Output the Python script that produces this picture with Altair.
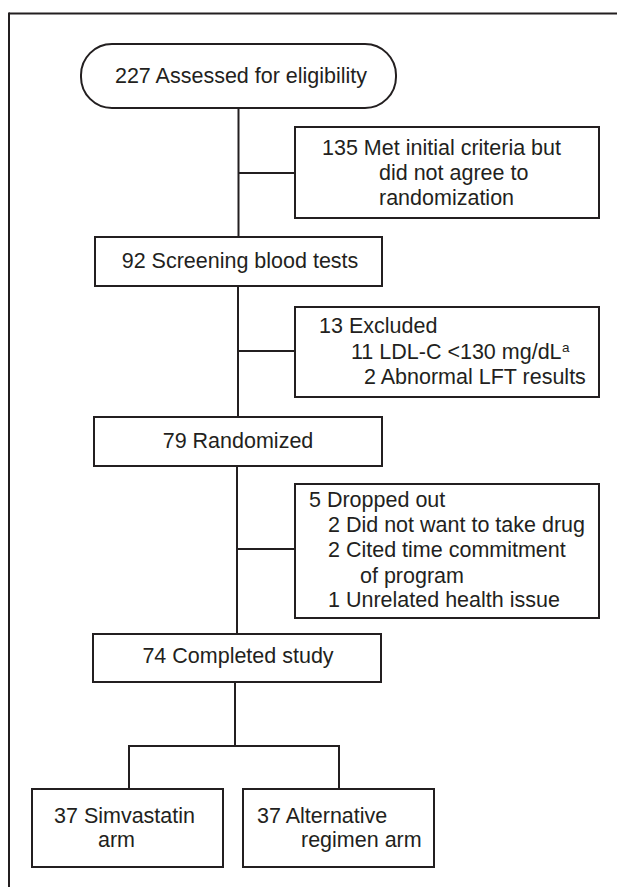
import altair as alt
import pandas as pd

# ---- content (labels) ----
step_labels = ["227 Assessed for eligibility", "92 Screening blood tests",
               "79 Randomized", "74 Completed study"]
declined_lines = ["135 Met initial criteria but", "did not agree to", "randomization"]
excluded_lines = ["13 Excluded", "11 LDL-C <130 mg/dL", "2 Abnormal LFT results"]
excluded_sup = "a"
dropped_lines = ["5 Dropped out", "2 Did not want to take drug", "2 Cited time commitment",
                 "of program", "1 Unrelated health issue"]
arm_sim_lines = ["37 Simvastatin", "arm"]
arm_alt_lines = ["37 Alternative", "regimen arm"]

# ---- layout (diagram coordinates) ----
boxes = pd.DataFrame([
    dict(x1=81, x2=396, y1=44, y2=108, kind="pill"),
    dict(x1=295, x2=599, y1=127, y2=218, kind="box"),
    dict(x1=95, x2=382, y1=237, y2=286, kind="box"),
    dict(x1=295, x2=599, y1=307, y2=397, kind="box"),
    dict(x1=94, x2=382, y1=417, y2=466, kind="box"),
    dict(x1=295, x2=599, y1=484, y2=618, kind="box"),
    dict(x1=93, x2=381, y1=634, y2=682, kind="box"),
    dict(x1=32, x2=223, y1=789, y2=867, kind="box"),
    dict(x1=243, x2=434, y1=789, y2=867, kind="box"),
])

connectors = pd.DataFrame([
    dict(x1=238.5, x2=238.5, y1=108, y2=237),
    dict(x1=238.5, x2=295, y1=173, y2=173),
    dict(x1=238, x2=238, y1=286, y2=417),
    dict(x1=238, x2=295, y1=351, y2=351),
    dict(x1=237, x2=237, y1=466, y2=634),
    dict(x1=237, x2=295, y1=549, y2=549),
    dict(x1=235, x2=235, y1=682, y2=746),
    dict(x1=128, x2=340, y1=746, y2=746),
    dict(x1=129, x2=129, y1=746, y2=789),
    dict(x1=339, x2=339, y1=746, y2=789),
    # outer frame
    dict(x1=9, x2=620, y1=13.5, y2=13.5),
    dict(x1=9, x2=9, y1=12.5, y2=890),
])

text_rows = []
def add(label, x, y, anchor="left"):
    text_rows.append(dict(label=label, x=x, y=y, anchor=anchor))

add(step_labels[0], 241, 83, "center")
for lab, x, y in zip(declined_lines, [322, 379, 379], [155, 180, 205]):
    add(lab, x, y)
add(step_labels[1], 240, 268, "center")
for lab, x, y in zip(excluded_lines, [319, 351, 364], [333, 359, 384]):
    add(lab, x, y)
add(step_labels[2], 238, 448, "center")
for lab, x, y in zip(dropped_lines, [309, 328, 328, 360, 328], [507, 532, 557, 583, 607]):
    add(lab, x, y)
add(step_labels[3], 238, 663, "center")
for lab, x, y in zip(arm_sim_lines, [54, 98], [823, 847]):
    add(lab, x, y)
for lab, x, y in zip(arm_alt_lines, [257, 301], [823, 847]):
    add(lab, x, y)
texts = pd.DataFrame(text_rows)
sup = pd.DataFrame([dict(label=excluded_sup, x=562, y=352)])

INK = "#231f20"
FONT = "Liberation Sans"
FS = 21.5

xs = alt.Scale(domain=[8, 617], nice=False, zero=False)
ys = alt.Scale(domain=[8, 887], nice=False, zero=False, reverse=True)

def X(f):
    return alt.X(f, type="quantitative", scale=xs, axis=None)

def Y(f):
    return alt.Y(f, type="quantitative", scale=ys, axis=None)

lines = alt.Chart(connectors).mark_rule(color=INK, strokeWidth=2).encode(
    x=X("x1"), x2="x2", y=Y("y1"), y2="y2")

rects = alt.Chart(boxes[boxes["kind"] == "box"]).mark_rect(
    fill="white", stroke=INK, strokeWidth=2).encode(
    x=X("x1"), x2="x2", y=Y("y1"), y2="y2")

pill = alt.Chart(boxes[boxes["kind"] == "pill"]).mark_rect(
    fill="white", stroke=INK, strokeWidth=2, cornerRadius=31).encode(
    x=X("x1"), x2="x2", y=Y("y1"), y2="y2")

left_text = alt.Chart(texts[texts["anchor"] == "left"]).mark_text(
    align="left", baseline="alphabetic", font=FONT, fontSize=FS, color=INK).encode(
    x=X("x"), y=Y("y"), text="label")

center_text = alt.Chart(texts[texts["anchor"] == "center"]).mark_text(
    align="center", baseline="alphabetic", font=FONT, fontSize=FS, color=INK).encode(
    x=X("x"), y=Y("y"), text="label")

sup_text = alt.Chart(sup).mark_text(
    align="left", baseline="alphabetic", font=FONT, fontSize=13.5, color=INK).encode(
    x=X("x"), y=Y("y"), text="label")

chart = alt.layer(lines, rects, pill, left_text, center_text, sup_text).properties(
    width=609, height=879, padding=0,
    autosize=alt.AutoSizeParams(type="none"),
).configure_view(stroke=None)

chart.save("out.html", embed_options={"renderer": "svg", "actions": False})
